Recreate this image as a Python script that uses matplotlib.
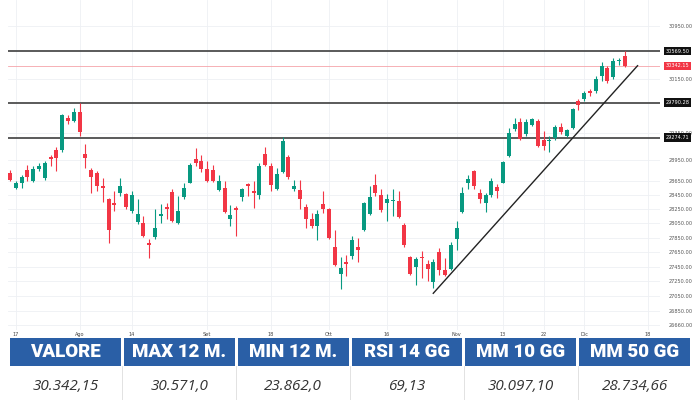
import matplotlib
matplotlib.use('Agg')
import matplotlib.pyplot as plt
from matplotlib.ticker import FixedLocator, NullLocator, FixedFormatter
from matplotlib.patches import Rectangle
import matplotlib.transforms as mtrans
import numpy as np

opens = [28765, 28547, 28614, 28802, 28646, 28822, 28696, 28992, 29097, 29097,
         29568, 29518, 29652, 29034, 28812, 28765, 28577, 28387, 28340, 28472,
         28458, 28227, 28066, 28057, 27778, 27859, 28151, 28278, 28491, 28059,
         28427, 28625, 28964, 28930, 28822, 28812, 28519, 28552, 28114, 28270,
         28427, 28609, 28505, 28444, 29036, 28869, 28529, 28774, 28992, 28529,
         28515, 28284, 28114, 28019, 28316, 28255, 27717, 27350, 27520, 27597,
         27726, 27962, 28175, 28586, 28444, 28340, 28369, 28364, 28033, 27580,
         27439, 27588, 27489, 27236, 27647, 27408, 27417, 27830, 28208, 28614,
         28798, 28472, 28340, 28444, 28567, 28625, 29011, 29395, 29509, 29330,
         29454, 29518, 29246, 29221, 29271, 29434, 29305, 29420, 29816, 29841,
         29964, 29960, 30188, 30313, 30168, 30416, 30496]
highs = [28802, 28646, 28741, 28883, 28860, 28907, 28930, 29024, 29146, 29618,
         29603, 29717, 29790, 29180, 28837, 28788, 28694, 28411, 28505, 28694,
         28482, 28505, 28397, 28151, 27830, 28246, 28316, 28340, 28529, 28434,
         28625, 28907, 29122, 29024, 28930, 28883, 28741, 28646, 28302, 28292,
         28553, 28625, 28646, 28907, 29136, 28907, 28837, 29279, 29024, 28670,
         28670, 28316, 28200, 28236, 28505, 28270, 27952, 27588, 27611, 27868,
         27844, 28355, 28577, 28755, 28529, 28458, 28529, 28505, 28059, 27597,
         27588, 27670, 27543, 27553, 27702, 27566, 27791, 28080, 28567, 28741,
         28812, 28541, 28482, 28694, 28600, 28930, 29420, 29568, 29568, 29543,
         29568, 29543, 29370, 29295, 29454, 29494, 29405, 29717, 29851, 29965,
         29990, 30183, 30406, 30347, 30466, 30466, 30571]
lows = [28646, 28529, 28552, 28646, 28632, 28788, 28670, 28860, 28788, 29071,
        29469, 29503, 29295, 28837, 28482, 28505, 28350, 27774, 28227, 28434,
        28246, 28200, 28047, 27859, 27566, 27830, 28059, 28104, 28066, 28047,
        28399, 28614, 28860, 28774, 28632, 28628, 28505, 28200, 28010, 27868,
        28364, 28434, 28270, 28399, 28869, 28505, 28519, 28765, 28679, 28505,
        28255, 27986, 27986, 27817, 28200, 27830, 27462, 27151, 27317, 27553,
        27512, 27948, 28161, 28434, 28208, 28080, 28151, 28128, 27726, 27340,
        27205, 27295, 27249, 27159, 27340, 27317, 27408, 27679, 28189, 28529,
        28529, 28340, 28208, 28427, 28412, 28614, 29001, 29370, 29246, 29305,
        29439, 29137, 29097, 29071, 29246, 29335, 29286, 29405, 29682, 29816,
        29890, 29930, 30109, 30079, 30138, 30362, 30330]
closes = [28670, 28614, 28710, 28710, 28822, 28860, 28907, 28964, 28978, 29603,
          29513, 29652, 29354, 28978, 28710, 28577, 28552, 27962, 28312, 28577,
          28284, 28444, 28175, 27876, 27750, 27986, 28175, 28246, 28080, 28222,
          28553, 28883, 28907, 28822, 28646, 28646, 28646, 28208, 28161, 28236,
          28529, 28577, 28482, 28869, 28883, 28586, 28755, 29230, 28710, 28577,
          28387, 28104, 28019, 28175, 28246, 27844, 27475, 27431, 27489, 27821,
          27679, 28340, 28420, 28482, 28236, 28397, 28383, 28142, 27745, 27354,
          27557, 27566, 27417, 27507, 27408, 27340, 27745, 27986, 28482, 28681,
          28577, 28398, 28444, 28646, 28505, 28916, 29345, 29480, 29256, 29509,
          29543, 29156, 29156, 29246, 29434, 29355, 29384, 29702, 29752, 29940,
          29930, 30138, 30336, 30113, 30411, 30425, 30342.15]

xtick_pos = [1, 12, 21, 34, 45, 55, 65, 77, 85, 92, 99, 110]
xtick_labels = ["17", "Ago", "14", "Set", "18", "Ott", "16", "Nov", "13", "22", "Dic", "18"]
ytick_vals = [30950, 30150, 29350, 28950, 28650, 28450, 28250, 28050, 27850,
              27650, 27450, 27250, 27050, 26850, 26660]
level_lines = [30569.50, 29790.28, 29274.71]
last_price = 30342.15
trend_x = [72.98, 108.2]
trend_y = [27087, 30346]
headers = ["VALORE", "MAX 12 M.", "MIN 12 M.", "RSI 14 GG", "MM 10 GG", "MM 50 GG"]
values = ["30.342,15", "30.571,0", "23.862,0", "69,13", "30.097,10", "28.734,66"]

GREEN = '#089981'
RED = '#f23645'

fig = plt.figure(figsize=(7, 4), dpi=100)
fig.patch.set_facecolor('white')
ax = fig.add_axes([8 / 700, 70 / 400, 652 / 700, 330 / 400])
ax.set_yscale('log')
ax.set_xlim(-0.345, 112.07)
ax.set_ylim(26595, 31358)
for s in ax.spines.values():
    s.set_visible(False)

# grid
for v in ytick_vals:
    ax.axhline(v, color='#eef0f4', lw=0.6, zorder=0)
for p in xtick_pos:
    ax.axvline(p, color='#eef0f4', lw=0.6, zorder=0)

o = np.array(opens, float)
h = np.array(highs, float)
l = np.array(lows, float)
c = np.array(closes, float)
x = np.arange(len(o))
cols = [GREEN if cc >= oo else RED for oo, cc in zip(o, c)]
ax.vlines(x, l, h, colors=cols, lw=0.8, zorder=3)
bot = np.minimum(o, c)
hgt = np.maximum(np.abs(c - o), 10)
ax.bar(x, hgt, bottom=bot, width=0.66, color=cols, zorder=4, linewidth=0)

for lv in level_lines:
    ax.axhline(lv, color='#4d4d4d', lw=1.3, zorder=2)
ax.axhline(last_price, color='#f5a3aa', lw=0.6, zorder=2)
ax.plot(trend_x, trend_y, color='#222222', lw=1.0, zorder=5)

# axes ticks
ax.yaxis.set_major_locator(FixedLocator(ytick_vals))
ax.yaxis.set_minor_locator(NullLocator())
ax.yaxis.set_major_formatter(FixedFormatter([f"{v:.2f}" for v in ytick_vals]))
ax.yaxis.tick_right()
ax.tick_params(axis='y', length=0, pad=6, labelsize=3.6, labelcolor='#555555')
ax.set_xticks(xtick_pos)
ax.set_xticklabels(xtick_labels)
ax.tick_params(axis='x', length=0, pad=1.2, labelsize=3.6, labelcolor='#444444')

trans = mtrans.blended_transform_factory(ax.transAxes, ax.transData)
for lv in level_lines:
    ax.text(1.0085, lv, f"{lv:.2f}", transform=trans, ha='left', va='center',
            fontsize=3.6, color='white', clip_on=False, zorder=10,
            bbox=dict(boxstyle='square,pad=0.35', fc='#111111', ec='none'))
ax.text(1.0085, last_price, f"{last_price:.2f}", transform=trans, ha='left', va='center',
        fontsize=3.6, color='white', clip_on=False, zorder=10,
        bbox=dict(boxstyle='square,pad=0.35', fc=RED, ec='none'))

# table
x0, x1, gap = 10, 690, 3
n = len(headers)
cw = (x1 - x0 - gap * (n - 1)) / n
for i, (hd, val) in enumerate(zip(headers, values)):
    left = x0 + i * (cw + gap)
    fig.patches.append(Rectangle((left / 700, (400 - 366) / 400), cw / 700, 28 / 400,
                                 transform=fig.transFigure, fc='#2a5fa6', ec='none'))
    fig.text((left + cw / 2) / 700, (400 - 352) / 400, hd, ha='center', va='center',
             color='white', fontsize=13.5, fontweight='black', family='Roboto')
    fig.text((left + cw / 2) / 700, (400 - 387) / 400, val, ha='center', va='center',
             color='#333333', fontsize=11, style='italic', family='Open Sans')
    if i > 0:
        sx = (left - gap / 2) / 700
        fig.add_artist(plt.Line2D([sx, sx], [0, (400 - 366) / 400], color='#dddddd', lw=0.6,
                                  transform=fig.transFigure))

fig.savefig('out.png', dpi=100)
